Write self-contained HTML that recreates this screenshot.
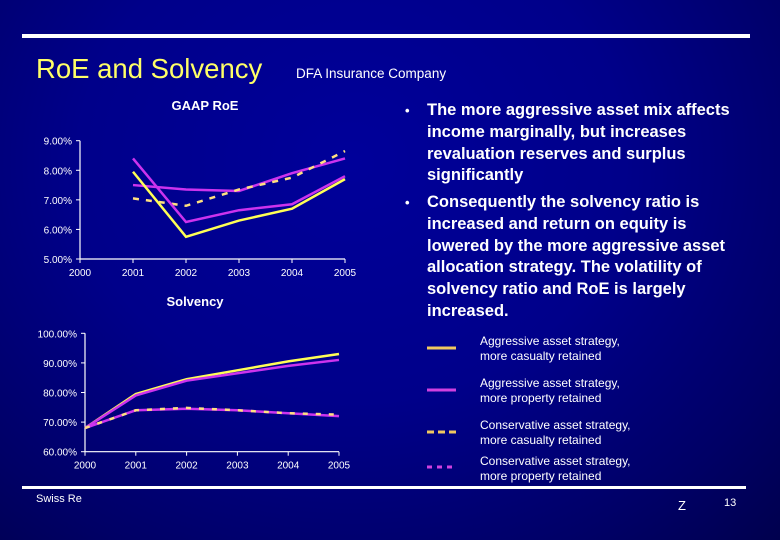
<!DOCTYPE html>
<html><head><meta charset="utf-8"><style>
body{margin:0;}
#slide{position:relative;width:780px;height:540px;overflow:hidden;background:radial-gradient(ellipse at 45% 30%,#00009a 0%,#00008a 45%,#000066 80%,#00004e 100%);font-family:"Liberation Sans",sans-serif;color:#fff;}
.abs{position:absolute;white-space:nowrap;}
.bul{position:absolute;left:427px;width:312px;font-size:16.5px;line-height:21.8px;font-weight:bold;}
.bul:before{content:"•";position:absolute;left:-22px;font-size:13px;}
.leg{position:absolute;left:480px;font-size:12px;line-height:15px;}
</style></head><body>
<div id="slide">
<div class="abs" style="left:22px;top:34px;width:728px;height:4px;background:#fff"></div>
<div class="abs" style="left:22px;top:486px;width:724px;height:3px;background:#fff"></div>
<div class="abs" style="left:36px;top:53px;font-size:27.5px;color:#ffff66">RoE and Solvency</div>
<div class="abs" style="left:296px;top:66px;font-size:13.5px">DFA Insurance Company</div>
<div class="bul" style="top:100px">The more aggressive asset mix affects income marginally, but increases revaluation reserves and surplus significantly</div>
<div class="bul" style="top:192px">Consequently the solvency ratio is increased and return on equity is lowered by the more aggressive asset allocation strategy. The volatility of solvency ratio and RoE is largely increased.</div>
<svg class="abs" style="left:0;top:0" width="780" height="540">
<line x1="427" y1="348" x2="456" y2="348" stroke="#f0c860" stroke-width="3"/>
<line x1="427" y1="390" x2="456" y2="390" stroke="#d040e0" stroke-width="3"/>
<line x1="427" y1="432" x2="456" y2="432" stroke="#f0c860" stroke-width="3" stroke-dasharray="7,4"/>
<line x1="427" y1="467" x2="456" y2="467" stroke="#d040e0" stroke-width="3" stroke-dasharray="5,5"/>
</svg>
<div class="leg" style="top:334px">Aggressive asset strategy,<br>more casualty retained</div>
<div class="leg" style="top:376px">Aggressive asset strategy,<br>more property retained</div>
<div class="leg" style="top:418px">Conservative asset strategy,<br>more casualty retained</div>
<div class="leg" style="top:454px">Conservative asset strategy,<br>more property retained</div>
<div class="abs" style="left:36px;top:493px;font-size:11px">Swiss Re</div>
<div class="abs" style="left:678px;top:498px;font-size:13px">Z</div>
<div class="abs" style="left:724px;top:497px;font-size:11px">13</div>
<svg id="roe" class="abs" style="left:0;top:0" width="780" height="540"></svg>
<svg id="sol" class="abs" style="left:0;top:0" width="780" height="540"></svg>
</div>
<script>
const years=["2000","2001","2002","2003","2004","2005"];
const roeTicks=[5,6,7,8,9];
const roeAggCas=[null,7.95,5.75,6.3,6.7,7.7];
const roeAggProp=[null,8.4,6.25,6.65,6.85,7.8];
const roeConsCas=[null,7.05,6.8,7.35,7.75,8.65];
const roeConsProp=[null,7.5,7.35,7.3,7.9,8.4];
const solTicks=[60,70,80,90,100];
const solAggCas=[68,79.5,84.5,87.5,90.5,93];
const solAggProp=[68,79,84,86.5,89,91];
const solConsCas=[68,74,74.8,74,73,72.5];
const solConsProp=[68,74,74.5,74,73,72];
const NS="http://www.w3.org/2000/svg";
function mk(svg,tag,attrs){const e=document.createElementNS(NS,tag);for(const k in attrs)e.setAttribute(k,attrs[k]);svg.appendChild(e);return e;}
function chart(id,title,titleX,titleY,x0,x1,yTop,yBot,vmin,vmax,ticks,series,prefix){
  const svg=document.getElementById(id);
  const xs=i=>x0+(x1-x0)*i/(years.length-1);
  const ys=v=>yBot-(yBot-yTop)*(v-vmin)/(vmax-vmin);
  const t=mk(svg,"text",{x:titleX,y:titleY,fill:"#fff","font-size":13,"font-weight":"bold","text-anchor":"middle"});t.textContent=title;
  
  
  const ax=mk(svg,"path",{d:`M${x0},${yTop}V${yBot}H${x1}`,stroke:"#fff","stroke-width":1.2,fill:"none"});
  
  
  ticks.forEach(v=>{
    mk(svg,"line",{x1:x0-4,x2:x0,y1:ys(v),y2:ys(v),stroke:"#fff"});
    const l=mk(svg,"text",{x:x0-8,y:ys(v)+4,fill:"#fff","font-size":10,"text-anchor":"end"});l.textContent=v.toFixed(2)+"%";
    
    
  });
  years.forEach((y,i)=>{
    mk(svg,"line",{x1:xs(i),x2:xs(i),y1:yBot,y2:yBot+4,stroke:"#fff"});
    const l=mk(svg,"text",{x:xs(i),y:yBot+17,fill:"#fff","font-size":10,"text-anchor":"middle"});l.textContent=y;
    
    
  });
  series.forEach(s=>{
    const pts=[];s.vals.forEach((v,i)=>{if(v!=null)pts.push(xs(i)+","+ys(v));});
    const p=mk(svg,"polyline",{points:pts.join(" "),fill:"none",stroke:s.c,"stroke-width":2.5,"stroke-dasharray":s.d||"none"});
    
    
  });
}
chart("roe","GAAP RoE",205,110,80,345,140.7,259,5,9,roeTicks,[
 {vals:roeConsProp,c:"#cc33ee",n:"cons-property"},
 {vals:roeConsCas,c:"#ffe080",d:"6,7",n:"cons-casualty"},
 {vals:roeAggCas,c:"#ffff55",n:"agg-casualty"},
 {vals:roeAggProp,c:"#cc33ee",n:"agg-property"}],"roe");
chart("sol","Solvency",195,306,85,339,333.3,451.7,60,100,solTicks,[
 {vals:solAggCas,c:"#ffff55",n:"agg-casualty"},
 {vals:solAggProp,c:"#cc33ee",n:"agg-property"},
 {vals:solConsProp,c:"#cc33ee",n:"cons-property"},
 {vals:solConsCas,c:"#ffe080",d:"5,8",n:"cons-casualty"}],"sol");
</script>
</body></html>
